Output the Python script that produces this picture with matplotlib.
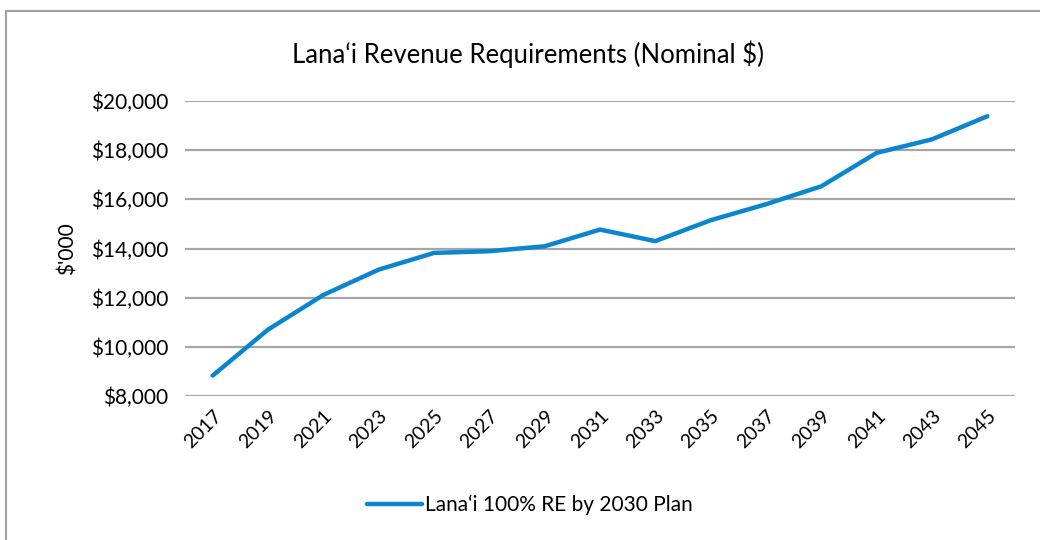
import matplotlib.pyplot as plt
from matplotlib.patches import Rectangle
from matplotlib.ticker import FuncFormatter

years = [2017, 2019, 2021, 2023, 2025, 2027, 2029, 2031, 2033, 2035,
         2037, 2039, 2041, 2043, 2045]
revenue = [8830, 10700, 12110, 13140, 13820, 13890, 14090, 14770, 14300, 15150,
           15800, 16530, 17890, 18440, 19380]
series_name = "Lana\u2018i 100% RE by 2030 Plan"
title = "Lana\u2018i Revenue Requirements (Nominal $)"

plt.rcParams['font.family'] = ['Lato', 'DejaVu Sans']
line_color = '#0A86CF'
grid_color = '#A6A6A6'

fig = plt.figure(figsize=(10.4, 5.4), dpi=100)
fig.patches.append(Rectangle((6 / 1040, -0.1), 1.2, 1 - 11 / 540 + 0.1,
                             transform=fig.transFigure, fill=False,
                             edgecolor='#A0A0A0', linewidth=1.5))

ax = fig.add_axes([185 / 1040, 1 - 396 / 540, 830 / 1040, 295 / 540])
x = list(range(len(years)))
ax.plot(x, revenue, color=line_color, linewidth=3.2, solid_capstyle='round',
        label=series_name)

ax.set_xlim(-0.5, len(years) - 0.5)
ax.set_ylim(8000, 20000)
ax.set_yticks(range(8000, 20001, 2000))
ax.yaxis.set_major_formatter(FuncFormatter(lambda v, p: f"${v:,.0f}"))
ax.set_xticks(x)
ax.set_xticklabels([str(y) for y in years], rotation=45, ha='right',
                   rotation_mode='anchor')
ax.tick_params(axis='both', length=0, colors='black')
ax.tick_params(axis='x', pad=8, labelsize=14)
ax.tick_params(axis='y', pad=12, labelsize=15)
ax.grid(axis='y', color=grid_color, linewidth=1.6)
ax.set_axisbelow(True)
for s in ax.spines.values():
    s.set_visible(False)

ax.set_ylabel("$'000", fontsize=15, labelpad=10)
fig.text(528 / 1040, 1 - 54 / 540, title, fontsize=18.5, ha='center', va='center')
fig.legend(loc='center', bbox_to_anchor=(530 / 1040, 1 - 505 / 540),
           frameon=False, fontsize=15, handlelength=2.6, handletextpad=0.15)

fig.savefig("out.png", dpi=100)
